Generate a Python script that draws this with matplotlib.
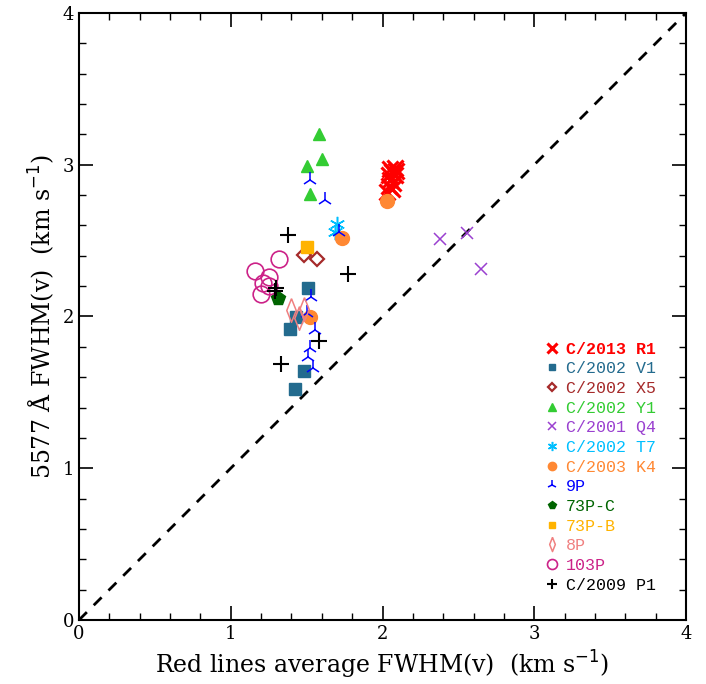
import matplotlib
matplotlib.use('Agg')
import matplotlib.pyplot as plt
from matplotlib.ticker import MultipleLocator

plt.rcParams['font.family'] = 'DejaVu Serif'

# C/2013 R1
r1_x = [2.05, 2.08, 2.06, 2.04, 2.08, 2.05, 2.07, 2.04, 2.06, 2.03, 2.09]
r1_y = [2.97, 2.98, 2.95, 2.93, 2.93, 2.90, 2.88, 2.86, 2.84, 2.82, 2.96]
# C/2002 V1
v1_x = [1.51, 1.43, 1.39, 1.485, 1.425]
v1_y = [2.185, 1.995, 1.915, 1.64, 1.52]
# C/2002 X5
x5_x = [1.485, 1.57]
x5_y = [2.405, 2.38]
# C/2002 Y1
y1_x = [1.58, 1.60, 1.50, 1.52]
y1_y = [3.20, 3.04, 2.99, 2.81]
# C/2001 Q4
q4_x = [2.38, 2.555, 2.65]
q4_y = [2.51, 2.55, 2.31]
# C/2002 T7
t7_x = [1.70, 1.69]
t7_y = [2.61, 2.56]
# C/2003 K4
k4_x = [2.03, 1.735, 1.52]
k4_y = [2.76, 2.52, 1.995]
# 9P
p9_x = [1.52, 1.62, 1.71, 1.53, 1.50, 1.555, 1.52, 1.51, 1.54]
p9_y = [2.90, 2.77, 2.56, 2.13, 2.02, 1.91, 1.79, 1.735, 1.66]
# 73P-C
p73c_x = [1.31]
p73c_y = [2.12]
# 73P-B
p73b_x = [1.50]
p73b_y = [2.46]
# 8P
p8_x = [1.40, 1.45, 1.48]
p8_y = [2.04, 1.99, 2.05]
# 103P
p103_x = [1.16, 1.25, 1.21, 1.20, 1.32, 1.25]
p103_y = [2.30, 2.26, 2.22, 2.15, 2.38, 2.20]
# C/2009 P1
p1_x = [1.38, 1.77, 1.30, 1.29, 1.58, 1.33]
p1_y = [2.54, 2.28, 2.19, 2.17, 1.84, 1.69]

thin_diamond = [(0, 1), (0.4, 0), (0, -1), (-0.4, 0), (0, 1)]

fig = plt.figure(figsize=(7.06, 6.84), dpi=100)
ax = fig.add_axes([0.1119, 0.0936, 0.8598, 0.8874])

ax.plot([0, 4], [0, 4], 'k--', lw=2, dashes=(4, 3.5), zorder=1)

ax.plot(r1_x, r1_y, 'x', color='#ff0000', ms=11, mew=2.2, ls='none', label='C/2013 R1')
ax.plot(v1_x, v1_y, 's', color='#236b8e', ms=8, ls='none', label='C/2002 V1')
ax.plot(x5_x, x5_y, 'D', mfc='none', mec='#a52a2a', ms=7, mew=1.6, ls='none', label='C/2002 X5')
ax.plot(y1_x, y1_y, '^', color='#33cc33', ms=9, ls='none', label='C/2002 Y1')
ax.plot(q4_x, q4_y, 'x', color='#9a40d0', ms=9, mew=1.1, ls='none', label='C/2001 Q4')
ax.plot(t7_x, t7_y, marker=(6, 2, 0), color='#00bfff', ms=11, mew=1.1, ls='none', label='C/2002 T7')
ax.plot(k4_x, k4_y, 'o', color='#ff8833', ms=10, ls='none', label='C/2003 K4')
ax.plot(p9_x, p9_y, marker='2', color='#0000ff', ms=11, mew=1.1, ls='none', label='9P')
ax.plot(p73c_x, p73c_y, 'p', color='#006400', ms=10, ls='none', label='73P-C')
ax.plot(p73b_x, p73b_y, 's', color='#ffb300', ms=8, ls='none', label='73P-B')
ax.plot(p8_x, p8_y, marker=thin_diamond, mfc='none', mec='#f08080', ms=17, mew=1.1, ls='none', label='8P')
ax.plot(p103_x, p103_y, 'o', mfc='none', mec='#cc2288', ms=12, mew=1.2, ls='none', label='103P')
ax.plot(p1_x, p1_y, '+', color='black', ms=12, mew=1.5, ls='none', label='C/2009 P1')

ax.set_xlim(0, 4)
ax.set_ylim(0, 4)
ax.xaxis.set_major_locator(MultipleLocator(1))
ax.yaxis.set_major_locator(MultipleLocator(1))
ax.xaxis.set_minor_locator(MultipleLocator(0.2))
ax.yaxis.set_minor_locator(MultipleLocator(0.2))
ax.tick_params(which='both', direction='in', top=True, right=True, labelsize=13)
ax.tick_params(which='major', length=10, width=1.2)
ax.tick_params(which='minor', length=5, width=1)
for s in ax.spines.values():
    s.set_linewidth(1.5)

ax.set_xlabel('Red lines average FWHM(v)  (km s$^{-1}$)', fontsize=17)
ax.set_ylabel('5577 Å FWHM(v)  (km s$^{-1}$)', fontsize=17)

leg = ax.legend(loc='lower right', bbox_to_anchor=(0.95, 0.045), frameon=False,
                markerscale=0.6, handlelength=0.6, handletextpad=0.5,
                labelspacing=0.28, borderpad=0, borderaxespad=0,
                prop={'family': 'Liberation Mono', 'size': 12})
colors = ['#ff0000', '#236b8e', '#a52a2a', '#33cc33', '#9a40d0', '#00bfff', '#ff8833',
          '#0000ff', '#006400', '#ffb300', '#f08080', '#cc2288', 'black']
for t, c in zip(leg.get_texts(), colors):
    t.set_color(c)
leg.get_texts()[0].set_fontweight('bold')

fig.savefig('out.png', dpi=100)
